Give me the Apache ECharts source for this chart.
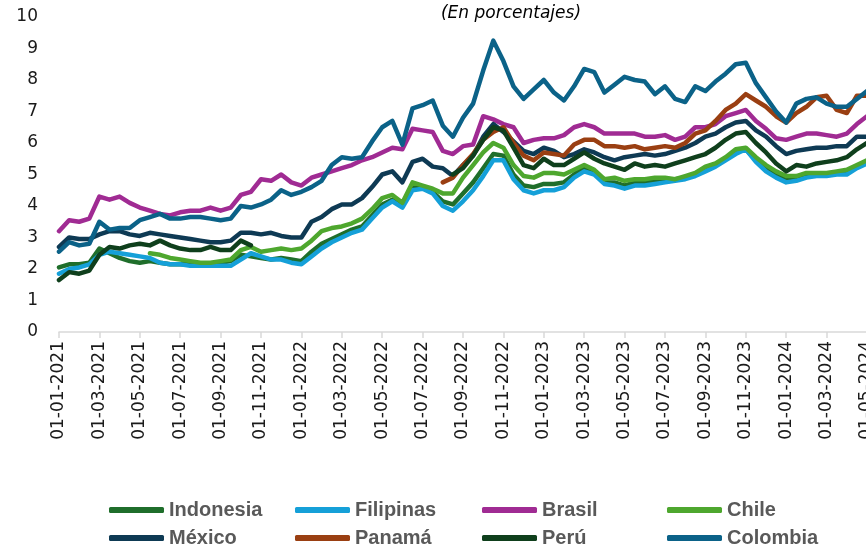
<!doctype html>
<html>
<head>
<meta charset="utf-8">
<title>Tasas</title>
<script src="https://cdn.jsdelivr.net/npm/echarts@6/dist/echarts.min.js"></script>
<style>
  html, body { margin: 0; padding: 0; background: #fff; }
  #chart { width: 866px; height: 546px; }
</style>
</head>
<body>
<div id="chart"></div>
<script>
// semi-monthly dates, 01-01-2021 .. 01-05-2024
var fechas = [];
for (var y = 2021; y <= 2024; y++) {
  for (var m = 1; m <= 12; m++) {
    var mm = (m < 10 ? '0' : '') + m;
    fechas.push('01-' + mm + '-' + y);
    if (y == 2024 && m == 5) break;
    fechas.push('16-' + mm + '-' + y);
  }
  if (y == 2024) break;
}

var paises = ['Indonesia', 'Filipinas', 'Brasil', 'Chile', 'México', 'Panamá', 'Perú', 'Colombia'];
var colores = ['#1F6E2B', '#15A0D8', '#A02B93', '#4EA72E', '#0E3A54', '#9A3F12', '#0F3F1C', '#0B6288'];

var indonesia = [2.05, 2.15, 2.15, 2.2, 2.65, 2.5, 2.35, 2.25, 2.2, 2.25, 2.2, 2.15, 2.15, 2.15, 2.15, 2.15, 2.2, 2.25, 2.45, 2.4, 2.35, 2.3, 2.35, 2.3, 2.25,
  2.55, 2.8, 2.95, 3.1, 3.25, 3.35, 3.7, 4.05, 4.2, 4.0, 4.6, 4.6, 4.45, 4.15, 4.05, 4.4, 4.75, 5.2, 5.65, 5.6, 5.0, 4.65, 4.6, 4.7, 4.7,
  4.75, 5.0, 5.2, 5.05, 4.75, 4.75, 4.65, 4.75, 4.75, 4.8, 4.8, 4.85, 4.9, 5.0, 5.15, 5.3, 5.5, 5.7, 5.8, 5.45, 5.2, 5.0, 4.85, 4.85, 4.95,
  5.0, 5.0, 5.05, 5.1, 5.25, 5.4];
var filipinas = [1.85, 2.0, 2.05, 2.15, 2.45, 2.55, 2.5, 2.45, 2.4, 2.35, 2.2, 2.15, 2.15, 2.1, 2.1, 2.1, 2.1, 2.1, 2.3, 2.5, 2.4, 2.3, 2.3, 2.2, 2.15,
  2.4, 2.65, 2.85, 3.0, 3.15, 3.25, 3.6, 3.95, 4.15, 3.95, 4.5, 4.55, 4.4, 4.0, 3.85, 4.15, 4.5, 4.95, 5.45, 5.45, 4.85, 4.5, 4.4, 4.5, 4.5,
  4.6, 4.9, 5.1, 5.0, 4.7, 4.65, 4.55, 4.65, 4.65, 4.7, 4.75, 4.8, 4.85, 4.95, 5.1, 5.25, 5.45, 5.65, 5.8, 5.4, 5.1, 4.9, 4.75, 4.8, 4.9,
  4.95, 4.95, 5.0, 5.0, 5.2, 5.35];
var brasil = [3.2, 3.55, 3.5, 3.6, 4.3, 4.2, 4.3, 4.1, 3.95, 3.85, 3.75, 3.7, 3.8, 3.85, 3.85, 3.95, 3.85, 3.95, 4.35, 4.45, 4.85, 4.8, 5.0, 4.75, 4.65,
  4.9, 5.0, 5.1, 5.2, 5.3, 5.45, 5.55, 5.7, 5.85, 5.8, 6.45, 6.4, 6.35, 5.75, 5.65, 5.9, 5.95, 6.85, 6.75, 6.6, 6.5, 6.0, 6.1, 6.15, 6.15,
  6.25, 6.5, 6.6, 6.5, 6.3, 6.3, 6.3, 6.3, 6.2, 6.2, 6.25, 6.1, 6.2, 6.5, 6.5, 6.6, 6.85, 6.95, 7.05, 6.7, 6.45, 6.15, 6.1, 6.2, 6.3,
  6.3, 6.25, 6.2, 6.3, 6.6, 6.85];
var chile = [null, null, null, null, null, null, null, null, null,
  2.5, 2.45, 2.35, 2.3, 2.25, 2.2, 2.2, 2.25, 2.3, 2.6, 2.7, 2.55, 2.6, 2.65, 2.6, 2.65,
  2.9, 3.2, 3.3, 3.35, 3.45, 3.6, 3.9, 4.25, 4.35, 4.1, 4.75, 4.65, 4.55, 4.4, 4.4, 4.9, 5.3, 5.7, 6.0, 5.85, 5.3, 4.95, 4.9, 5.05, 5.05,
  5.0, 5.15, 5.3, 5.15, 4.85, 4.9, 4.8, 4.85, 4.85, 4.9, 4.9, 4.85, 4.95, 5.05, 5.25, 5.35, 5.55, 5.8, 5.85, 5.55, 5.3, 5.1, 4.95, 4.95, 5.05,
  5.05, 5.05, 5.1, 5.15, 5.3, 5.45];
var mexico = [2.7, 3.0, 2.95, 2.95, 3.1, 3.2, 3.2, 3.1, 3.05, 3.15, 3.1, 3.05, 3.0, 2.95, 2.9, 2.85, 2.85, 2.9, 3.15, 3.15, 3.1, 3.15, 3.05, 3.0, 3.0,
  3.5, 3.65, 3.9, 4.05, 4.05, 4.25, 4.6, 5.0, 5.1, 4.75, 5.4, 5.5, 5.25, 5.2, 4.95, 5.3, 5.6, 6.2, 6.6, 6.35, 6.05, 5.75, 5.65, 5.85, 5.75,
  5.55, 5.65, 5.8, 5.7, 5.55, 5.45, 5.55, 5.6, 5.65, 5.6, 5.65, 5.75, 5.85, 6.0, 6.2, 6.3, 6.5, 6.65, 6.7, 6.4, 6.2, 5.9, 5.65, 5.75, 5.8,
  5.85, 5.85, 5.9, 5.9, 6.2, 6.2];
var panama = [null, null, null, null, null, null, null, null, null, null, null, null, null, null, null, null, null, null, null,
  null, null, null, null, null, null, null, null, null, null, null, null, null, null, null, null, null, null, null,
  4.75, 4.9, 5.3, 5.65, 6.1, 6.35, 6.5, 6.0, 5.6, 5.45, 5.7, 5.65, 5.6, 5.95, 6.1, 6.1, 5.9, 5.9, 5.85, 5.9, 5.8, 5.85,
  5.9, 5.85, 6.0, 6.3, 6.4, 6.7, 7.05, 7.25, 7.55, 7.35, 7.15, 6.85, 6.65, 6.95, 7.15, 7.45, 7.5, 7.05, 6.95, 7.5, 7.5];
var peru = [1.65, 1.9, 1.85, 1.95, 2.45, 2.7, 2.65, 2.75, 2.8, 2.75, 2.9, 2.75, 2.65, 2.6, 2.6, 2.7, 2.6, 2.6, 2.9, 2.75,
  null, null, null, null, null, null, null, null, null, null, null, null, null, null, null, null, null, null, null,
  5.0, 5.2, 5.6, 6.1, 6.5, 6.4, 5.85, 5.3, 5.2, 5.5, 5.3, 5.3, 5.5, 5.7, 5.5, 5.35, 5.25, 5.15, 5.35, 5.25, 5.3,
  5.25, 5.35, 5.45, 5.55, 5.65, 5.85, 6.1, 6.3, 6.35, 6.0, 5.7, 5.35, 5.1, 5.3, 5.25, 5.35, 5.4, 5.45, 5.55, 5.8, 6.0];
var colombia = [2.55, 2.85, 2.75, 2.8, 3.5, 3.25, 3.3, 3.3, 3.55, 3.65, 3.75, 3.6, 3.6, 3.65, 3.65, 3.6, 3.55, 3.6, 4.0, 3.95, 4.05, 4.2, 4.5, 4.35, 4.45,
  4.6, 4.8, 5.3, 5.55, 5.5, 5.55, 6.05, 6.5, 6.7, 5.95, 7.1, 7.2, 7.35, 6.55, 6.2, 6.8, 7.25, 8.3, 9.25, 8.6, 7.8, 7.4, 7.7, 8.0, 7.6,
  7.35, 7.8, 8.35, 8.25, 7.6, 7.85, 8.1, 8.0, 7.95, 7.55, 7.8, 7.4, 7.3, 7.8, 7.65, 7.95, 8.2, 8.5, 8.55, 7.9, 7.45, 7.0, 6.65, 7.25, 7.4,
  7.45, 7.25, 7.15, 7.15, 7.4, 7.65];

var valores = [indonesia, filipinas, brasil, chile, mexico, panama, peru, colombia];

var chart = echarts.init(document.getElementById('chart'), null, { renderer: 'canvas' });

var series = [];
var legends = [];
var colX = [104, 290, 477, 662];
var rowY = [495, 523];
for (var i = 0; i < paises.length; i++) {
  series.push({
    name: paises[i],
    type: 'line',
    data: valores[i],
    symbol: 'none',
    showSymbol: false,
    connectNulls: false,
    color: colores[i],
    lineStyle: { width: 4.5, color: colores[i], cap: 'round', join: 'round' },
    emphasis: { disabled: true }
  });
  legends.push({
    data: [paises[i]],
    left: colX[i % 4],
    top: rowY[Math.floor(i / 4)],
    icon: 'roundRect',
    itemWidth: 55,
    itemHeight: 6,
    selectedMode: false,
    textStyle: {
      fontFamily: 'Liberation Sans, Arial, sans-serif',
      fontWeight: 'bold',
      fontSize: 20,
      color: '#595959'
    }
  });
}

var option = {
  animation: false,
  title: {
    text: '(En porcentajes)',
    left: 506,
    textAlign: 'center',
    top: 0,
    textStyle: {
      fontFamily: 'DejaVu Sans',
      fontStyle: 'italic',
      fontWeight: 'normal',
      fontSize: 17,
      color: '#000'
    }
  },
  legend: legends,
  grid: { left: 59, right: -1, top: 17, bottom: 214, containLabel: false, outerBoundsMode: 'none' },
  xAxis: {
    type: 'category',
    data: fechas,
    boundaryGap: false,
    axisLine: { lineStyle: { color: '#d9d9d9', width: 1.5 } },
    axisTick: { interval: 3, length: 6, lineStyle: { color: '#d9d9d9', width: 1.5 } },
    axisLabel: {
      interval: 3,
      rotate: 90,
      margin: 9,
      hideOverlap: false,
      fontFamily: 'DejaVu Sans',
      fontSize: 17,
      color: '#1a1a1a'
    },
    splitLine: { show: false }
  },
  yAxis: {
    type: 'value',
    min: 0,
    max: 10,
    interval: 1,
    axisLine: { show: false },
    axisTick: { show: false },
    splitLine: { show: false },
    axisLabel: {
      margin: 21,
      fontFamily: 'DejaVu Sans',
      fontSize: 17,
      color: '#1a1a1a'
    }
  },
  series: series
};

chart.setOption(option);
</script>
</body>
</html>
